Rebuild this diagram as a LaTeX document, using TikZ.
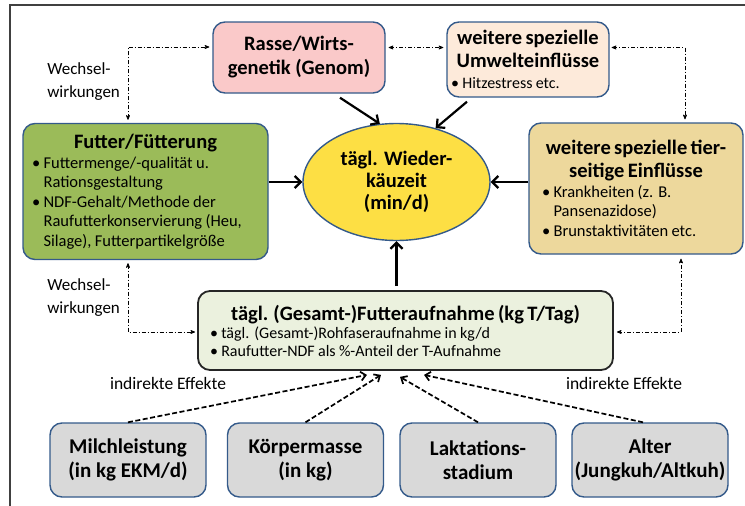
\documentclass[tikz,border=0pt]{standalone}
\usepackage{fontspec}
\setmainfont{Carlito}
\usetikzlibrary{shapes,arrows,arrows.meta,calc}
\setlength{\parindent}{0pt}
\definecolor{rand}{RGB}{52,90,138}
\definecolor{rassec}{RGB}{250,201,201}
\definecolor{umweltc}{RGB}{253,234,218}
\definecolor{futterc}{RGB}{155,187,89}
\definecolor{gelb}{RGB}{253,223,68}
\definecolor{tierc}{RGB}{237,216,156}
\definecolor{gesamtc}{RGB}{235,241,222}
\definecolor{grau}{RGB}{217,217,217}
\newcommand{\kopf}{\fontsize{20.5}{23}\selectfont\bfseries}
\newcommand{\liste}{\fontsize{16.5}{19.5}\selectfont}
\newcommand{\pkt}{\textbullet\ }
\newcommand{\einr}{\hphantom{\textbullet\ }}

\begin{document}
\begin{tikzpicture}[x=1pt,y=-1pt,>=stealth',semithick]
\tikzstyle{box}=[draw=rand,line width=1.4pt,rounded corners=12pt,inner sep=0pt,text=black]
\tikzstyle{klein}=[box,fill=grau,minimum width=156pt,minimum height=74pt,align=center,font=\fontsize{21}{24}\selectfont\bfseries]
\tikzstyle{wirkung}=[<->,line width=0.7pt,dash pattern=on 4pt off 2pt on 1pt off 2pt]
\tikzstyle{einfluss}=[-{Straight Barb[length=6pt,width=12pt]},line width=2.2pt]
\tikzstyle{indirekt}=[-{Straight Barb[length=5pt,width=9pt]},line width=1.7pt,dash pattern=on 5pt off 2.5pt]
\tikzstyle{hinweis}=[align=left,anchor=west,inner sep=0pt,font=\fontsize{17}{23}\selectfont]
\tikzstyle{effekt}=[font=\fontsize{17.5}{20}\selectfont]

\useasboundingbox (0,0) rectangle (745,506);
\draw[line width=1.3pt,black!75] (745,5) -- (10,5) -- (10,506);

% Einflussfaktoren
\node[box,fill=rassec,minimum width=172pt,minimum height=71pt,align=center,font=\fontsize{20.5}{24}\selectfont\bfseries] (rasse) at (299,57.5) {Rasse/Wirts-\\genetik (Genom)};
\node[box,fill=umweltc,minimum width=162pt,minimum height=75pt,text width=154pt] (umwelt) at (528,59.5)
  {{\centering\kopf weitere spezielle\\Umwelteinflüsse\par}\fontsize{16}{21}\selectfont\raggedright\pkt Hitzestress etc.\par};
\node[box,fill=futterc,minimum width=245pt,minimum height=136pt,text width=227pt] (futter) at (145.5,191.5)
  {{\centering\kopf Futter/Fütterung\par}\liste\raggedright\pkt Futtermenge/-qualität u.\\\einr Rationsgestaltung\\\pkt NDF-Gehalt/Methode der\\\einr Raufutterkonservierung (Heu,\\\einr Silage), Futterpartikelgröße\par};
\node[ellipse,draw=rand,line width=1.4pt,fill=gelb,minimum width=187pt,minimum height=117pt,inner sep=0pt,align=center,font=\fontsize{20.5}{22}\selectfont\bfseries] (ell) at (396.5,182) {tägl. Wieder-\\käuzeit\\(min/d)};
\node[box,fill=tierc,minimum width=214pt,minimum height=131pt,text width=200pt] (tier) at (636,188.5)
  {{\centering\kopf weitere spezielle tier-\\seitige Einflüsse\par}\liste\raggedright\hspace*{6pt}\pkt Krankheiten (z. B.\\\hspace*{6pt}\einr Pansenazidose)\\\hspace*{6pt}\pkt Brunstaktivitäten etc.\par};
\node[box,draw=black!85,line width=1.8pt,fill=gesamtc,minimum width=415pt,minimum height=79pt,text width=391pt] (gesamt) at (405.5,330.5)
  {{\centering\kopf tägl. (Gesamt-)Futteraufnahme (kg T/Tag)\par}\fontsize{16}{18}\selectfont\raggedright\pkt tägl. (Gesamt-)Rohfaseraufnahme in kg/d\\\pkt Raufutter-NDF als \%-Anteil der T-Aufnahme\par};

\node[klein] (milch) at (128,460) {Milchleistung\\(in kg EKM/d)};
\node[klein] (koerper) at (305.5,460) {Körpermasse\\(in kg)};
\node[klein] (laktation) at (478,460) {Laktations-\\stadium};
\node[klein] (alter) at (650,460) {Alter\\(Jungkuh/Altkuh)};

\node[hinweis] (ww1) at (47,82) {Wechsel-\\wirkungen};
\node[hinweis] (ww2) at (47,298) {Wechsel-\\wirkungen};
\node[effekt] (ie1) at (168,383) {indirekte Effekte};
\node[effekt] (ie2) at (624,383) {indirekte Effekte};

% direkte Einfluesse
\draw[einfluss] ($(rasse.south)+(41,4)$) -- (ell.106);
\draw[einfluss] ($(umwelt.south)+(-61,4)$) -- (ell.54);
\draw[einfluss] (futter.east |- ell.west) -- (ell.west);
\draw[einfluss] (tier.west |- ell.east) -- (ell.east);
\draw[einfluss,shorten <=4pt] (gesamt.north -| ell.south) -- (ell.south);

% Wechselwirkungen
\draw[wirkung] ($(futter.north)+(-17.5,-3)$) |- ($(rasse.west)+(-3,-10.5)$);
\draw[wirkung] ($(rasse.east)+(3,-10)$) -- ($(umwelt.west)+(-3,-12)$);
\draw[wirkung] ($(umwelt.east)+(2,-12)$) -| ($(tier.north)+(49,-3)$);
\draw[wirkung] ($(futter.south)+(-17.5,3)$) |- ($(gesamt.west)+(-2,1.5)$);
\draw[wirkung] ($(gesamt.east)+(3,1.5)$) -| ($(tier.south)+(45,4)$);

% indirekte Effekte
\draw[indirekt] (milch.north) -- ($(gesamt.south)+(-38.5,4)$);
\draw[indirekt] (koerper.north) -- ($(gesamt.south)+(-24.5,4)$);
\draw[indirekt] (laktation.north) -- ($(gesamt.south)+(-5.5,6)$);
\draw[indirekt] ($(alter.north)+(-7,0)$) -- ($(gesamt.south)+(18.5,4)$);
\end{tikzpicture}
\end{document}
